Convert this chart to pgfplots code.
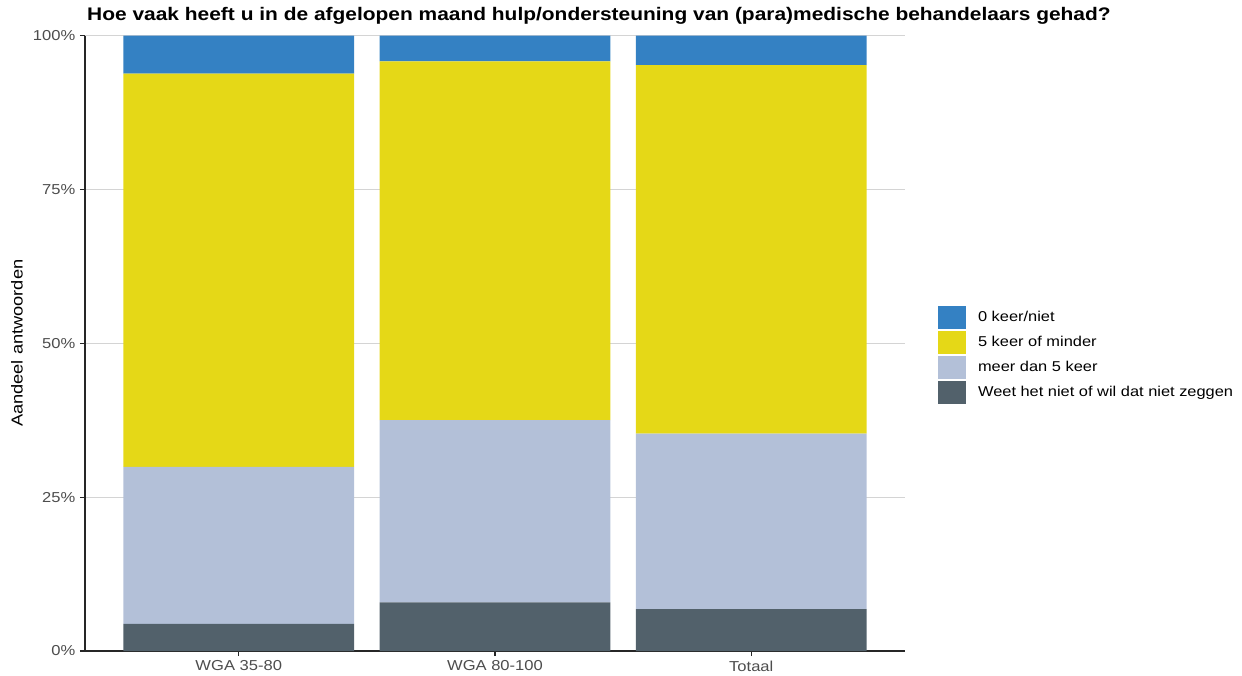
\documentclass[border=0pt]{standalone}
\usepackage{pgfplots}
\pgfplotsset{compat=1.18}
\usepackage{fontspec}
\setmainfont[FakeStretch=1.15]{Liberation Sans}
\definecolor{cblue}{HTML}{3481C3}
\definecolor{cyellow}{HTML}{E5D817}
\definecolor{clight}{HTML}{B3C0D8}
\definecolor{cdark}{HTML}{52616B}
\definecolor{tickgray}{HTML}{4D4D4D}
\definecolor{gridgray}{HTML}{D4D4D4}
\begin{document}
\begin{tikzpicture}
\begin{axis}[
  at={(63.75pt,18pt)}, anchor=south west,
  width=615pt, height=461.6pt, scale only axis,
  ybar stacked, bar width=0.9,
  xmin=-0.6, xmax=2.6, ymin=0, ymax=100,
  xtick={0,1,2}, xticklabels={WGA 35-80, WGA 80-100, Totaal},
  ytick={0,25,50,75,100}, yticklabels={0\%,25\%,50\%,75\%,100\%},
  /pgf/number format/assume math mode=true,
  axis lines*=left,
  axis line style={line width=0.8pt, color=black!85},
  tick style={line width=0.8pt, color=black!85},
  major tick length=3.75pt,
  tick align=outside,
  ymajorgrids, grid style={line width=0.6pt, color=gridgray},
  ticklabel style={font=\fontsize{10.8}{12}\selectfont, color=tickgray},
  ylabel={Aandeel antwoorden},
  ylabel style={at={(axis description cs:-0.083,0.5)}, anchor=center, font=\fontsize{11.9}{14}\selectfont},
  title={Hoe vaak heeft u in de afgelopen maand hulp/ondersteuning van (para)medische behandelaars gehad?},
  every axis title/.style={at={(axis description cs:0.0024,1.0317)}, anchor=west, font=\bfseries\fontsize{13.65}{15}\selectfont, inner sep=0pt},
  legend style={at={(1.04,0.5605)}, anchor=north west, draw=none, fill=none,
    font=\fontsize{10.7}{12}\selectfont, row sep=1.5pt, inner sep=0pt,
    nodes={inner sep=0pt},
    /tikz/every odd column/.append style={column sep=9pt}},
  legend image code/.code={\fill[#1] (0pt,-8.625pt) rectangle (21pt,8.625pt);},
  legend cell align=left,
  reverse legend,
]
\addplot[fill=cdark, draw=none] coordinates {(0,4.4) (1,7.9) (2,6.8)};
\addplot[fill=clight, draw=none] coordinates {(0,25.5) (1,29.6) (2,28.5)};
\addplot[fill=cyellow, draw=none] coordinates {(0,63.9) (1,58.3) (2,59.9)};
\addplot[fill=cblue, draw=none] coordinates {(0,6.2) (1,4.2) (2,4.8)};
\legend{Weet het niet of wil dat niet zeggen, meer dan 5 keer, 5 keer of minder, 0 keer/niet}
\end{axis}
\pgfresetboundingbox
\path[use as bounding box] (0,0) rectangle (931.5pt,506.25pt);
\end{tikzpicture}
\end{document}
